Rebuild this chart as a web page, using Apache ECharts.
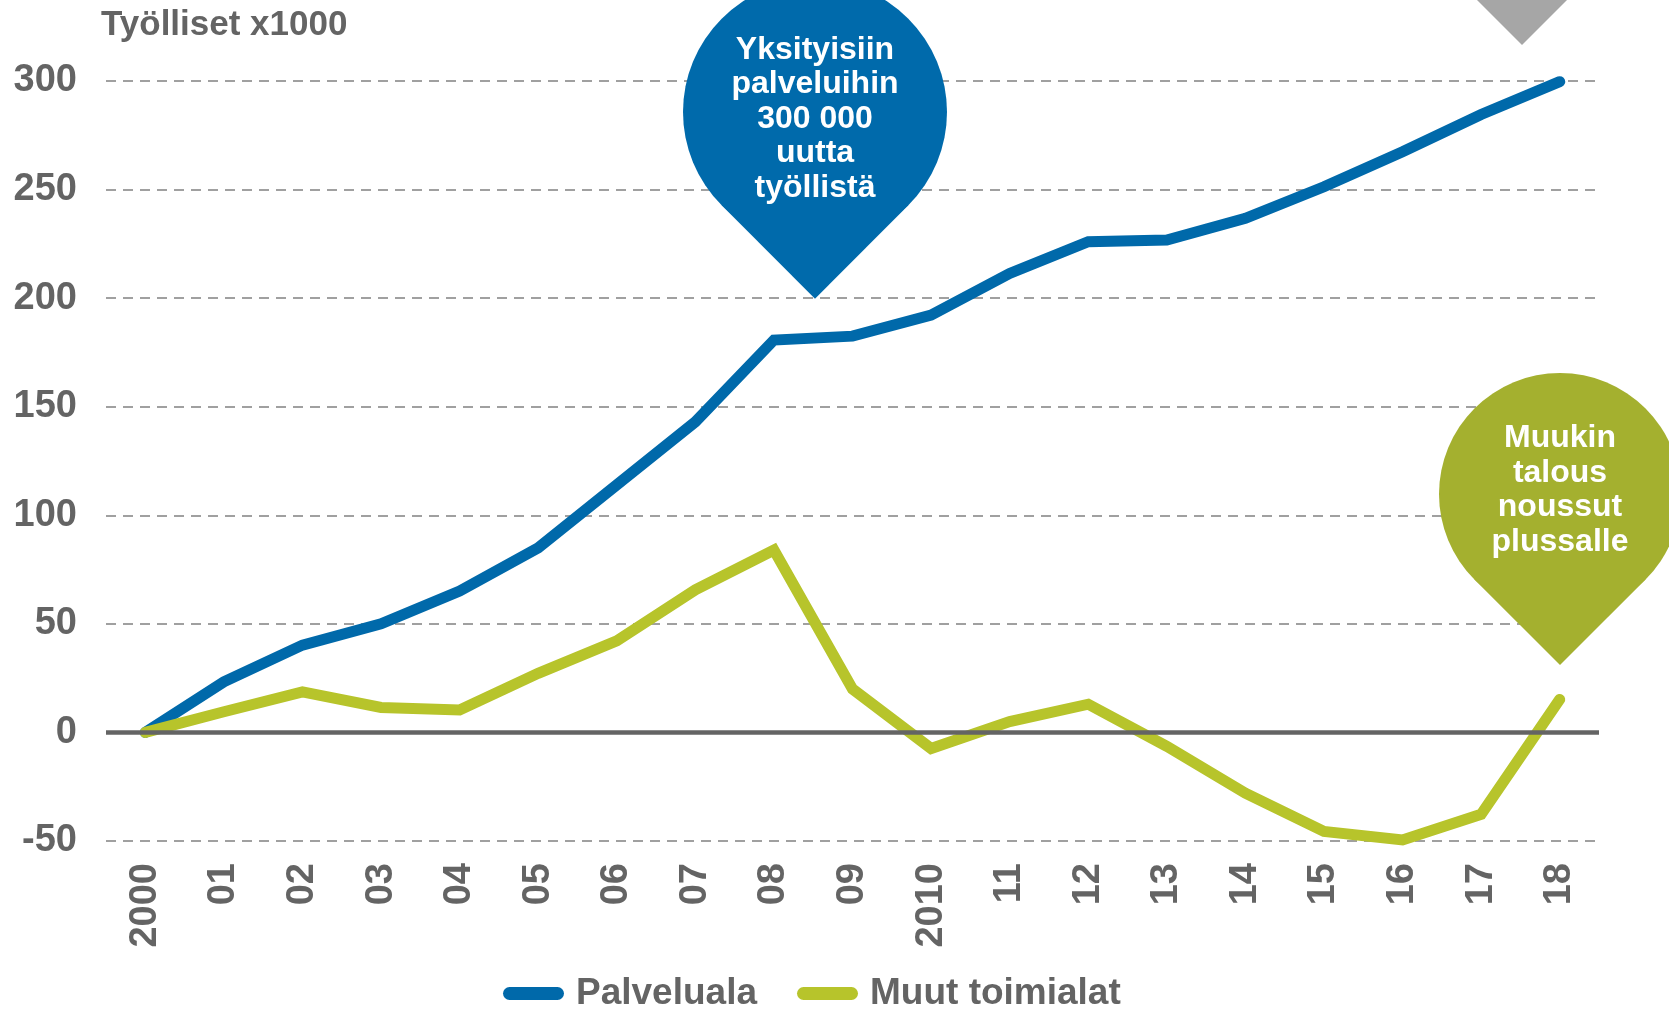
<!DOCTYPE html>
<html lang="fi">
<head>
    <meta charset="UTF-8">
    <title>Työlliset x1000</title>
    <style>
        *{
            margin: 0;
        }
        html,body{
            height: 100%;
            background: #fff;
        }
        #chart{
            width: 1669px;
            height: 1010px;
        }
    </style>
    <script src="https://cdn.jsdelivr.net/npm/echarts@6/dist/echarts.min.js"></script>
</head>
<body>
<div id="chart"></div>
<script>
    // vuodet
    const years = ['2000','01','02','03','04','05','06','07','08','09','2010','11','12','13','14','15','16','17','18'];
    // työllisten muutos vuodesta 2000, tuhatta
    const palveluala = [0, 23.3, 40.2, 50, 65.1, 85, 114, 143, 180.7, 182.5, 192.2, 211.4, 226, 226.8, 236.8, 251.3, 267.4, 284.6, 299.7];
    const muutToimialat = [0, 9.5, 18.7, 11.5, 10.3, 27.2, 42.2, 65.7, 84, 20, -7.4, 5, 13, -6.4, -28, -45.6, -49.5, -37.7, 15.2];
    const yTicks = {min: -50, max: 300, step: 50};

    const FONT = '"Liberation Sans", Arial, sans-serif';
    const GREY = '#646464';
    const BLUE = '#0069aa';
    const GREEN = '#b7c42b';

    // pisaranmuotoinen puhekupla: ympyrä + 90 asteen kärki alaspäin
    function balloon(cx, cy, r, color, text, textY) {
        const d = r / Math.SQRT2;
        return {
            type: 'group',
            children: [
                {type: 'circle', z: 100, shape: {cx: cx, cy: cy, r: r}, style: {fill: color}},
                {type: 'polygon', z: 100, shape: {points: [[cx, cy], [cx - d, cy + d], [cx, cy + r * Math.SQRT2], [cx + d, cy + d]]}, style: {fill: color}},
                {type: 'text', z: 101, x: cx, y: textY, style: {
                    text: text, fill: '#fff', font: 'bold 32px ' + FONT,
                    align: 'center', verticalAlign: 'middle', lineHeight: 34.6
                }}
            ]
        };
    }

    const myChart = echarts.init(document.getElementById('chart'));
    myChart.setOption({
        animation: false,
        title: {
            text: 'Työlliset x1000',
            left: 101,
            top: 8,
            padding: 0,
            textStyle: {fontFamily: FONT, fontSize: 35, fontWeight: 'bold', color: GREY}
        },
        legend: {
            left: 503,
            top: 975,
            padding: 0,
            itemWidth: 61,
            itemHeight: 13,
            itemGap: 40,
            textStyle: {fontFamily: FONT, fontSize: 37, fontWeight: 'bold', color: GREY, padding: [0, 0, 0, 7]},
            data: [
                {name: 'Palveluala', icon: 'path://M6.5,0 L54.5,0 A6.5,6.5 0 0 1 54.5,13 L6.5,13 A6.5,6.5 0 0 1 6.5,0 Z'},
                {name: 'Muut toimialat', icon: 'path://M6.5,0 L54.5,0 A6.5,6.5 0 0 1 54.5,13 L6.5,13 A6.5,6.5 0 0 1 6.5,0 Z'}
            ]
        },
        grid: {
            left: 106,
            right: 70,
            top: 81,
            bottom: 169,
            containLabel: false,
            outerBoundsMode: 'none'
        },
        xAxis: {
            type: 'category',
            data: years,
            boundaryGap: true,
            axisLine: {show: false},
            axisTick: {show: false},
            axisLabel: {
                interval: 0,
                rotate: 90,
                margin: 22,
                fontFamily: FONT,
                fontSize: 38,
                fontWeight: 'bold',
                color: GREY
            }
        },
        yAxis: {
            type: 'value',
            min: yTicks.min,
            max: yTicks.max,
            interval: yTicks.step,
            axisLine: {show: false},
            axisTick: {show: false},
            axisLabel: {
                margin: 29,
                fontFamily: FONT,
                fontSize: 38,
                fontWeight: 'bold',
                color: GREY
            },
            splitLine: {
                lineStyle: {color: '#a0a0a0', width: 2, type: [10, 7]}
            }
        },
        series: [
            {
                name: 'Palveluala',
                type: 'line',
                data: palveluala,
                color: BLUE,
                symbol: 'none',
                clip: false,
                lineStyle: {width: 11, color: BLUE, cap: 'round', join: 'miter'},
                markLine: {
                    silent: true,
                    symbol: ['none', 'none'],
                    label: {show: false},
                    lineStyle: {color: GREY, width: 4.5, type: 'solid'},
                    data: [{yAxis: 0}]
                },
                z: 3
            },
            {
                name: 'Muut toimialat',
                type: 'line',
                data: muutToimialat,
                color: GREEN,
                symbol: 'none',
                clip: true,
                lineStyle: {width: 11, color: GREEN, cap: 'round', join: 'miter'},
                z: 4
            }
        ],
        graphic: [
            balloon(815, 112, 132, '#006aab', 'Yksityisiin\npalveluihin\n300 000\nuutta\ntyöllistä', 119),
            balloon(1560, 494, 121, '#a4b02f', 'Muukin\ntalous\nnoussut\nplussalle', 490),
            {type: 'polygon', z: 100, shape: {points: [[1477, 0], [1567, 0], [1522, 45]]}, style: {fill: '#a6a6a6'}}
        ]
    });
    window.onresize = myChart.resize;
</script>
</body>
</html>
